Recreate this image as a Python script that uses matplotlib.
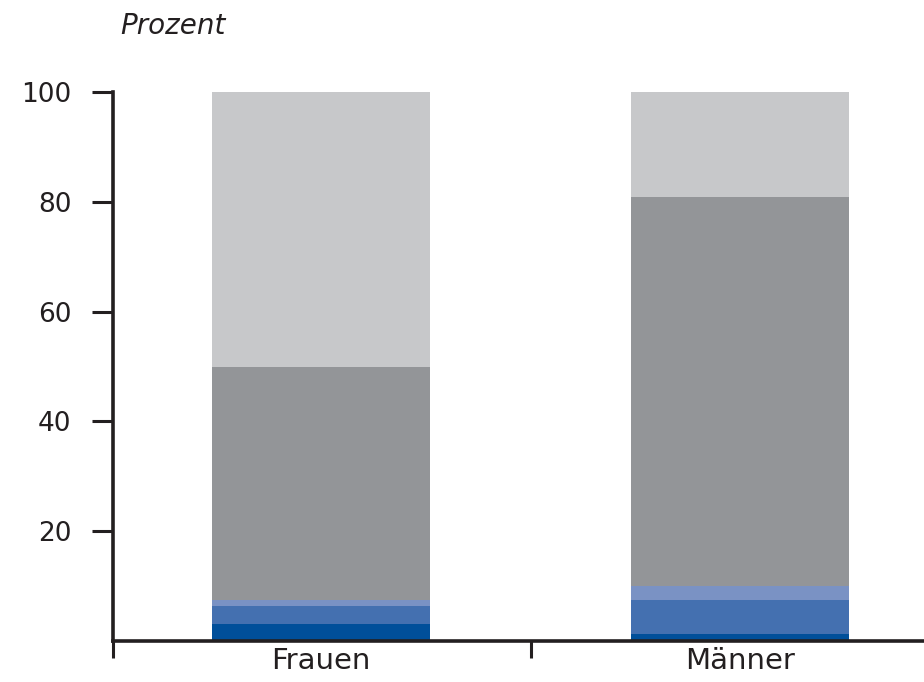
import numpy as np
import matplotlib.pyplot as plt

# shares in percent, stacked bottom to top
groups = ['Frauen', 'Männer']
dark_blue = [3.1, 1.3]
mid_blue = [3.2, 6.2]
light_blue = [1.2, 2.5]
grey = [42.5, 70.9]
light_grey = [50.0, 19.1]

layers = [dark_blue, mid_blue, light_blue, grey, light_grey]
colors = ['#004f9a', '#4470b0', '#7a92c4', '#939598', '#c7c8ca']

fig = plt.figure(figsize=(9.24, 6.82), dpi=100)
ax = fig.add_axes([113/924, 41/682, 1 - 113/924, 549/682])

x = np.arange(len(groups))
bottom = np.zeros(len(groups))
for vals, c in zip(layers, colors):
    ax.bar(x, vals, bottom=bottom, width=0.52, color=c, linewidth=0)
    bottom += np.array(vals)

ax.set_xlim(-0.496, 1.438)
ax.set_ylim(0, 100)

for s in ['top', 'right']:
    ax.spines[s].set_visible(False)
for s in ['left', 'bottom']:
    ax.spines[s].set_linewidth(2.6)
    ax.spines[s].set_color('#231f20')

ax.set_yticks([20, 40, 60, 80, 100])
ax.tick_params(axis='y', direction='out', length=15, width=2.2, color='#231f20',
               pad=15, labelsize=19, labelcolor='#231f20')

# group labels centred under the bars, tick marks between groups
ax.set_xticks(x)
ax.set_xticklabels(groups, fontsize=21, color='#231f20')
ax.tick_params(axis='x', which='major', length=0, pad=4)
ax.set_xticks([-0.496, 0.5], minor=True)
ax.tick_params(axis='x', which='minor', direction='out', length=12, width=2.2,
               color='#231f20')

fig.text(120/924, 1 - 26/682, 'Prozent', fontsize=20, style='italic',
         color='#231f20', va='center', ha='left')

fig.savefig('out.png', dpi=100)
